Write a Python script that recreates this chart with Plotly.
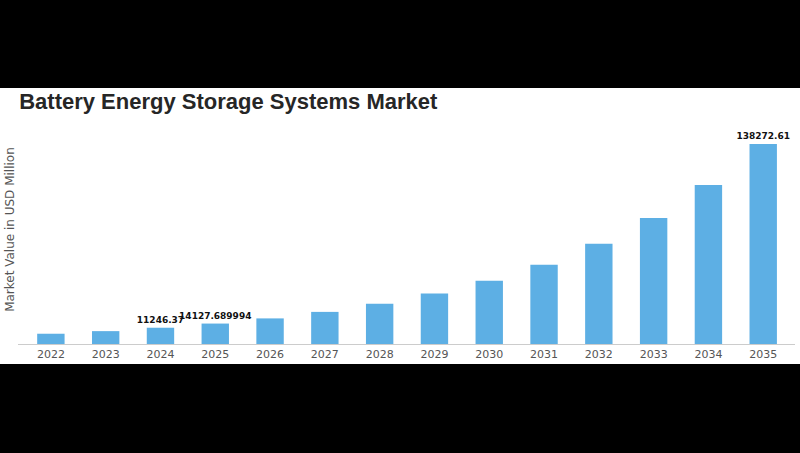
import plotly.graph_objects as go

years = ['2022', '2023', '2024', '2025', '2026', '2027', '2028', '2029',
         '2030', '2031', '2032', '2033', '2034', '2035']
market_value = [7100, 8900, 11246.37, 14127.689994, 17700, 22200, 27800, 34900,
                43700, 54800, 69300, 87100, 110000, 138272.61]
labels = ['', '', '11246.37', '14127.689994', '', '', '', '', '', '', '', '', '', '138272.61']

fig = go.Figure()
fig.add_trace(go.Bar(
    x=years, y=market_value,
    marker=dict(color='#5DAFE4', line=dict(width=0)),
    text=labels, textposition='outside', cliponaxis=False, constraintext='none',
    textfont=dict(family='DejaVu Sans', size=9, color='#111111'),
    texttemplate='<b>%{text}</b>',
))

# white "card" on top of the black page
fig.add_shape(type='rect', xref='paper', yref='paper',
              x0=-0.03, x1=1.01, y0=-0.0913, y1=1.169,
              fillcolor='white', line_width=0, layer='below')

fig.update_layout(
    width=800, height=453,
    paper_bgcolor='black', plot_bgcolor='white',
    margin=dict(l=18, r=5, t=125, b=109),
    bargap=0.5,
    showlegend=False,
    title=dict(text='<b>Battery Energy Storage Systems Market</b>',
               x=0.024, xanchor='left', y=0.777, yanchor='middle',
               font=dict(family='Liberation Sans', size=22, color='#262626')),
    xaxis=dict(range=[-0.6, 13.58], showline=True, linecolor='#cccccc', linewidth=1,
               ticks='', tickfont=dict(family='DejaVu Sans', size=11, color='#555555'),
               showgrid=False, fixedrange=True),
    yaxis=dict(range=[0, 151400], showticklabels=False, showgrid=False,
               zeroline=False, showline=False, fixedrange=True),
)

fig.add_annotation(text='Market Value in USD Million', textangle=-90,
                   xref='paper', yref='paper', x=-0.0105, y=0.525,
                   xanchor='center', yanchor='middle', showarrow=False,
                   font=dict(family='DejaVu Sans', size=12, color='#555555'))

# drop the browser's default page margin so the figure sits at 0,0
fig.write_html('out.html', config={'displayModeBar': False},
               post_script="document.body.style.margin='0';document.body.style.background='black';")
